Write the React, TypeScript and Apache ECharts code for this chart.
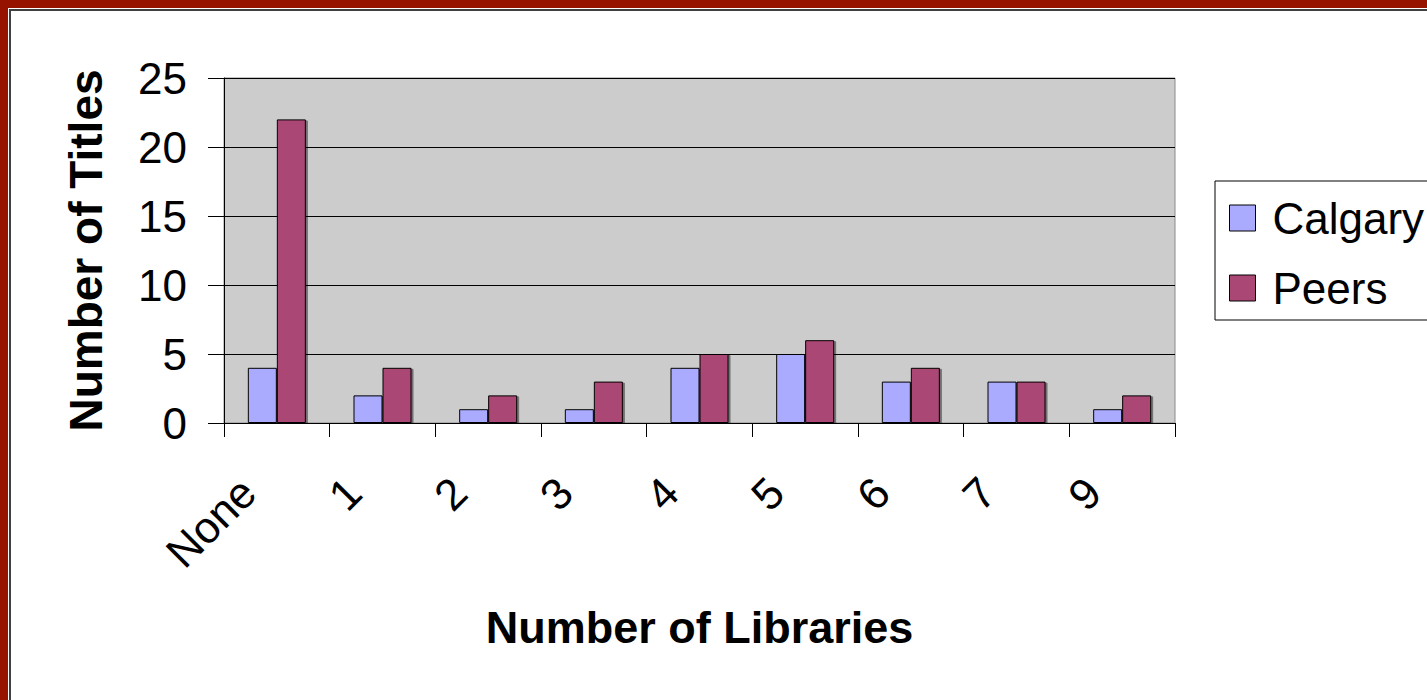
import React, { useEffect, useRef } from "react";
import * as echarts from "echarts";

const categories = ["None", "1", "2", "3", "4", "5", "6", "7", "9"];
const calgary = [4, 2, 1, 1, 4, 5, 3, 3, 1];
const peers = [22, 4, 2, 3, 5, 6, 4, 3, 2];
const seriesNames = ["Calgary", "Peers"];
const yTitle = "Number of Titles";
const xTitle = "Number of Libraries";

const FONT = "'Liberation Sans', Arial, sans-serif";

export default function App() {
  const ref = useRef<HTMLDivElement>(null);
  useEffect(() => {
    document.body.style.margin = "0";
    document.body.style.overflow = "hidden";
    const chart = echarts.init(ref.current!, null, { renderer: "svg" });
    const barStyle = (color: string) => ({
      color,
      borderColor: "#000",
      borderWidth: 1,
      shadowColor: "rgba(0,0,0,0.45)",
      shadowOffsetX: 2,
      shadowOffsetY: 1,
      shadowBlur: 0,
    });
    chart.setOption({
      animation: false,
      backgroundColor: "#fff",
      textStyle: { fontFamily: FONT, color: "#000" },
      graphic: [
        { type: "rect", shape: { x: 0, y: 0, width: 1427, height: 8 }, style: { fill: "#961300" }, silent: true },
        { type: "rect", shape: { x: 0, y: 0, width: 8, height: 700 }, style: { fill: "#961300" }, silent: true },
        { type: "rect", shape: { x: 9, y: 9, width: 1418, height: 2 }, style: { fill: "#404040" }, silent: true },
        { type: "rect", shape: { x: 9, y: 9, width: 2, height: 691 }, style: { fill: "#404040" }, silent: true },
      ],
      grid: {
        left: 224,
        top: 78,
        width: 951,
        height: 345,
        show: true,
        backgroundColor: "#CCCCCC",
        borderColor: "#8a8a8a",
        borderWidth: 1,
      },
      legend: {
        orient: "vertical",
        left: 1215,
        top: 181,
        data: seriesNames,
        backgroundColor: "#fff",
        borderColor: "#000",
        borderWidth: 1,
        borderRadius: 0,
        padding: [15, 30, 10, 14],
        itemGap: 26,
        itemWidth: 26,
        itemHeight: 26,
        icon: "rect",
        itemStyle: { borderColor: "#000", borderWidth: 1 },
        textStyle: {
          fontFamily: FONT,
          fontSize: 44,
          color: "#000",
          lineHeight: 44,
          padding: [0, 0, 0, 12],
        },
      },
      xAxis: {
        type: "category",
        data: categories,
        name: xTitle,
        nameLocation: "middle",
        nameGap: 182,
        nameTextStyle: { fontFamily: FONT, fontSize: 45, fontWeight: "bold", color: "#000" },
        axisLine: { lineStyle: { color: "#000", width: 1 } },
        axisTick: { show: true, length: 14, lineStyle: { color: "#000" } },
        axisLabel: {
          rotate: 45,
          fontFamily: FONT,
          fontSize: 44,
          color: "#000",
          margin: 33,
          padding: [0, 41, 0, 0],
          interval: 0,
        },
        splitLine: { show: false },
      },
      yAxis: {
        type: "value",
        min: 0,
        max: 25,
        interval: 5,
        name: yTitle,
        nameLocation: "middle",
        nameGap: 115,
        nameTextStyle: { fontFamily: FONT, fontSize: 46, fontWeight: "bold", color: "#000" },
        axisLine: { show: true, lineStyle: { color: "#000", width: 1 } },
        axisTick: { show: true, length: 16, lineStyle: { color: "#000" } },
        axisLabel: { fontFamily: FONT, fontSize: 44, color: "#000", margin: 37 },
        splitLine: { show: true, lineStyle: { color: "#000", width: 1 } },
      },
      series: [
        {
          name: seriesNames[0],
          type: "bar",
          data: calgary,
          barWidth: 29,
          barGap: "0%",
          itemStyle: barStyle("#AAAAFF"),
        },
        {
          name: seriesNames[1],
          type: "bar",
          data: peers,
          barWidth: 29,
          barGap: "0%",
          itemStyle: barStyle("#AA4775"),
        },
      ],
    });
    return () => chart.dispose();
  }, []);
  return (
    <div
      ref={ref}
      style={{ position: "fixed", left: 0, top: 0, width: 1427, height: 700, background: "#fff" }}
    />
  );
}
